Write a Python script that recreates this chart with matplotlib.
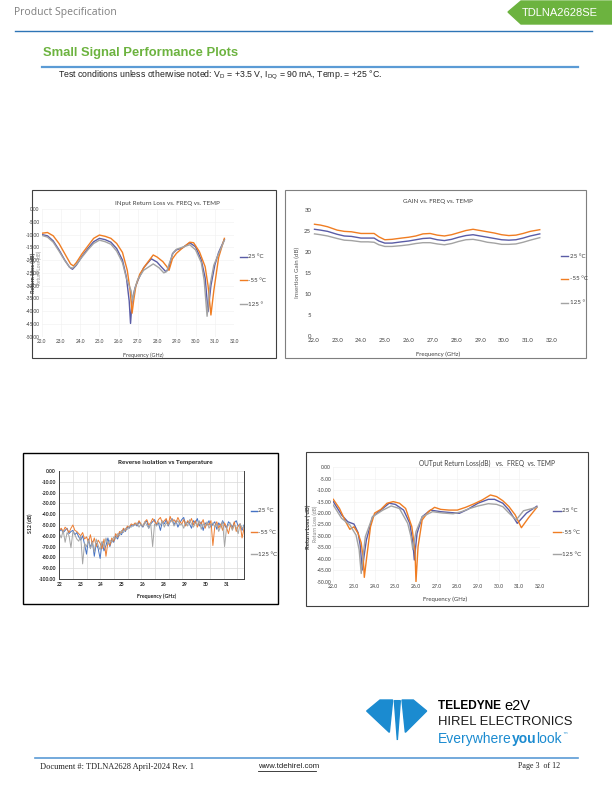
import numpy as np
import matplotlib
matplotlib.use("Agg")
import matplotlib.pyplot as plt
from matplotlib.patches import Polygon, Rectangle
from matplotlib.lines import Line2D
from matplotlib.ticker import FormatStrFormatter

# ---------------- data ----------------
temps = ["25 °C", "-55 °C", "125 °"]
temps_full = ["25 °C", "-55 °C", "125 °C"]

# Input return loss (dB)
irl_f_25 = [22.0, 22.3, 22.6, 22.9, 23.2, 23.45, 23.6, 23.8, 24.1, 24.4, 24.7, 25.0, 25.3, 25.6, 25.9,
            26.2, 26.4, 26.55, 26.62, 26.7, 26.85, 27.0, 27.3, 27.7, 28.0, 28.2, 28.45, 28.6, 28.8, 29.0,
            29.3, 29.7, 30.0, 30.3, 30.5, 30.65, 30.8, 31.0, 31.2, 31.5]
irl_25 = [-10.0, -10.5, -12.5, -16.0, -20.0, -22.8, -23.6, -22.0, -18.5, -15.5, -12.8, -11.5, -12.0, -13.0, -15.5,
          -20.0, -26.5, -36.0, -44.8, -36.0, -31.0, -28.0, -23.0, -19.5, -20.8, -22.5, -24.5, -23.5, -17.5, -16.0,
          -15.3, -13.2, -14.8, -20.0, -27.0, -40.2, -30.0, -22.0, -17.0, -12.0]
irl_f_m55 = [22.0, 22.3, 22.6, 22.9, 23.2, 23.5, 23.65, 23.8, 24.1, 24.4, 24.7, 25.0, 25.3, 25.6, 25.9,
             26.2, 26.45, 26.6, 26.7, 26.78, 26.9, 27.1, 27.4, 27.8, 28.0, 28.3, 28.5, 28.62, 28.8, 29.0,
             29.3, 29.7, 29.9, 30.2, 30.5, 30.65, 30.8, 30.95, 31.2, 31.5]
irl_m55 = [-9.5, -9.2, -10.5, -13.5, -17.5, -21.5, -22.3, -21.0, -17.5, -14.5, -11.5, -10.2, -10.7, -11.5, -13.5,
           -17.0, -24.0, -32.0, -40.8, -36.0, -30.0, -25.5, -22.0, -18.0, -18.8, -20.6, -22.5, -24.0, -19.5, -17.4,
           -15.4, -13.0, -13.2, -16.7, -22.6, -30.0, -41.5, -32.0, -19.0, -11.5]
irl_f_125 = [22.0, 22.3, 22.6, 22.9, 23.2, 23.45, 23.6, 23.8, 24.1, 24.4, 24.7, 25.0, 25.3, 25.6, 25.9,
             26.2, 26.4, 26.55, 26.65, 26.72, 26.85, 27.0, 27.3, 27.8, 28.1, 28.35, 28.5, 28.65, 28.85, 29.0,
             29.3, 29.7, 30.0, 30.3, 30.45, 30.6, 30.75, 30.95, 31.2, 31.5]
irl_125 = [-10.3, -11.0, -13.0, -16.5, -20.2, -22.8, -23.2, -21.8, -18.8, -16.0, -13.5, -12.2, -12.8, -13.8, -16.5,
           -21.0, -27.0, -30.0, -32.0, -36.0, -31.0, -27.5, -24.0, -21.5, -23.0, -25.0, -24.5, -21.0, -17.0, -15.8,
           -15.0, -14.0, -16.0, -21.0, -28.0, -42.0, -30.0, -22.0, -17.5, -12.2]

# Gain (dB)
gain_f = [22.05, 22.3, 22.6, 23.0, 23.3, 23.6, 24.0, 24.3, 24.55, 24.75, 25.0, 25.3, 25.7, 26.0, 26.3, 26.6,
          26.9, 27.2, 27.5, 27.8, 28.1, 28.4, 28.7, 29.0, 29.3, 29.6, 29.9, 30.2, 30.5, 30.8, 31.1, 31.5]
gain_m55 = [26.6, 26.4, 26.0, 25.2, 24.9, 24.8, 24.4, 24.4, 24.4, 23.6, 22.9, 23.0, 23.3, 23.5, 23.8, 24.3,
            24.4, 24.0, 23.8, 24.1, 24.6, 25.1, 25.4, 25.1, 24.8, 24.5, 24.1, 23.9, 24.0, 24.4, 24.9, 25.3]
gain_25 = [25.4, 25.2, 24.9, 24.2, 23.8, 23.7, 23.3, 23.3, 23.3, 22.6, 22.1, 22.1, 22.4, 22.6, 22.9, 23.2,
           23.3, 22.9, 22.7, 23.0, 23.5, 23.9, 24.1, 23.8, 23.5, 23.2, 22.9, 22.8, 22.9, 23.3, 23.8, 24.3]
gain_125 = [24.3, 24.1, 23.8, 23.2, 22.8, 22.7, 22.4, 22.4, 22.3, 21.7, 21.3, 21.3, 21.5, 21.7, 22.0, 22.2,
            22.2, 21.9, 21.7, 22.0, 22.5, 22.9, 23.0, 22.7, 22.3, 22.1, 21.8, 21.8, 21.9, 22.3, 22.8, 23.4]

# Reverse isolation S12 (dB), plotted on the chart's category positions
s12_ticks = ["22", "23", "24", "25", "26", "28", "29", "30", "31"]
s12_25 = [-56, -54, -57, -55, -53, -58, -56, -55, -59, -57,
          -61, -64, -60, -68, -77, -63, -71, -65, -79, -67, -72, -81, -66, -74, -69, -62, -70,
          -64, -66, -60, -63, -57, -59, -54, -56, -52, -53, -50, -51,
          -49, -51, -47, -50, -52, -48, -46, -53, -49, -47, -45, -50, -48, -55, -47, -49, -45, -51, -47, -44,
          -50, -46, -52, -48, -45, -43, -50, -47, -49, -53, -46, -48, -44, -51, -47, -55, -48, -50, -46, -52,
          -49, -47, -54, -48, -51, -46, -50, -53, -47, -49, -52, -48, -46, -51, -49, -55, -50]
s12_m55 = [-55, -53, -56, -52, -54, -57, -53, -50, -55, -56,
           -58, -60, -57, -63, -61, -66, -59, -68, -62, -70, -64, -67, -72, -63, -79, -66, -69,
           -62, -65, -58, -61, -56, -57, -53, -55, -51, -52, -49, -50,
           -48, -50, -46, -49, -51, -47, -45, -50, -48, -44, -47, -49, -45, -43, -48, -46, -44, -50, -42, -47,
           -45, -48, -43, -47, -49, -45, -51, -46, -48, -44, -50, -46, -52, -47, -49, -45, -53, -48, -50, -46,
           -69, -51, -47, -53, -49, -55, -48, -52, -58, -50, -54, -47, -56, -51, -49, -62, -53]
s12_125 = [-58, -62, -55, -66, -57, -60, -71, -56, -59, -63,
           -65, -60, -86, -67, -70, -64, -72, -66, -75, -63, -69, -73, -65, -70, -62, -68, -64,
           -66, -61, -63, -58, -60, -55, -57, -53, -54, -51, -52, -50,
           -50, -48, -52, -49, -51, -47, -50, -53, -48, -70, -49, -51, -47, -50, -46, -52, -48, -50, -47, -45,
           -51, -48, -46, -50, -49, -53, -47, -51, -45, -49, -52, -48, -50, -46, -54, -49, -51, -47, -53, -50,
           -48, -52, -49, -56, -51, -47, -70, -53, -50, -48, -55, -50, -52, -58, -49, -53, -51]
s12_pos = np.linspace(0, 8.84, len(s12_25))

# Output return loss (dB)
orl_f_25 = [22.0, 22.4, 22.7, 23.0, 23.2, 23.3, 23.4, 23.5, 23.6, 23.9, 24.3, 24.7, 25.0, 25.4, 25.7, 25.85,
            25.92, 26.05, 26.3, 26.7, 27.2, 27.7, 28.1, 28.5, 29.0, 29.5, 29.8, 30.2, 30.5, 30.9, 31.35, 31.85]
orl_25 = [-15.0, -20.8, -23.8, -24.8, -28.6, -34.0, -44.9, -38.0, -31.8, -21.6, -18.7, -15.7, -16.2, -18.7, -24.5, -33.0,
          -40.5, -28.9, -21.6, -18.7, -19.4, -19.8, -20.1, -18.4, -15.7, -14.0, -14.0, -15.7, -18.7, -24.5, -20.0, -17.0]
orl_f_m55 = [22.0, 22.3, 22.6, 22.8, 23.0, 23.2, 23.35, 23.45, 23.5, 23.6, 23.8, 24.0, 24.3, 24.6, 24.9, 25.2,
             25.5, 25.8, 25.95, 26.0, 26.1, 26.3, 26.6, 26.9, 27.2, 27.6, 28.0, 28.4, 28.8, 29.2, 29.6, 29.9,
             30.2, 30.5, 30.8, 31.1, 31.45, 31.85]
orl_m55 = [-14.0, -18.0, -23.8, -27.1, -26.0, -28.9, -33.0, -40.0, -48.1, -40.5, -26.0, -20.0, -18.4, -15.7, -15.0, -15.7,
           -18.0, -26.0, -36.0, -50.0, -34.7, -23.0, -19.4, -17.5, -18.4, -18.7, -18.7, -17.5, -16.0, -14.3, -12.1, -12.8,
           -14.6, -17.2, -20.8, -26.4, -22.0, -17.5]
orl_f_125 = [22.0, 22.4, 22.8, 23.1, 23.25, 23.35, 23.45, 23.55, 23.9, 24.4, 24.8, 25.2, 25.6, 25.75, 25.85,
             26.0, 26.3, 26.8, 27.3, 27.8, 28.2, 28.6, 29.0, 29.5, 29.9, 30.2, 30.5, 30.85, 31.2, 31.85]
orl_125 = [-16.5, -22.3, -25.2, -29.6, -36.0, -46.4, -38.0, -30.3, -21.6, -18.7, -16.9, -18.0, -24.5, -30.0, -36.0,
           -28.1, -21.6, -19.4, -20.0, -20.3, -19.4, -18.0, -16.9, -15.9, -16.2, -17.2, -20.0, -23.0, -19.0, -17.5]

# ---------------- styling ----------------
BLUE, ORANGE, GRAY = "#5a5ca6", "#f07d22", "#a3a3a3"
XBLUE, XORANGE, XGRAY = "#4472c4", "#ed7d31", "#a5a5a5"
CH = "Lato"

W, H = 612, 792
fig = plt.figure(figsize=(6.12, 7.92), dpi=100)
renderer = fig.canvas.get_renderer()


def fx(x):
    return x / W


def fy(y):
    return 1 - y / H


def axes_px(x0, y0, x1, y1):
    return fig.add_axes([fx(x0), fy(y1), (x1 - x0) / W, (y1 - y0) / H])


def hline(x0, x1, y, color, lw):
    fig.add_artist(Line2D([fx(x0), fx(x1)], [fy(y), fy(y)], color=color, lw=lw,
                          transform=fig.transFigure))


def txt(x, y, s, **kw):
    kw.setdefault("va", "center")
    return fig.text(fx(x), fy(y), s, **kw)


def legend_px(x, ys, colors, labels, length=7, size=4.5, lw=1.0):
    for y, c, lab in zip(ys, colors, labels):
        hline(x, x + length, y, c, lw)
        txt(x + length + 1.5, y, lab, fontsize=size, family=CH, color="#404040")


def frame(x0, y0, x1, y1, color="#404040", lw=0.8):
    fig.add_artist(Rectangle((fx(x0), fy(y1)), (x1 - x0) / W, (y1 - y0) / H, fill=False,
                             edgecolor=color, lw=lw, transform=fig.transFigure))


def plain_axes(ax, size):
    for s in ax.spines.values():
        s.set_visible(False)
    ax.tick_params(length=0, labelsize=size, pad=1.5, colors="#404040")
    for lab in ax.get_xticklabels() + ax.get_yticklabels():
        lab.set_family(CH)
    ax.grid(color="#f0f0f0", lw=0.4)
    ax.set_axisbelow(True)


# ---------------- page header ----------------
txt(14, 13, "Product Specification", fontsize=7.5, color="#7f7f7f", family="Open Sans")
fig.add_artist(Polygon([(fx(508), fy(12)), (fx(521), fy(1)), (fx(612), fy(1)), (fx(612), fy(24)),
                        (fx(521), fy(24))], closed=True, color="#6cb33f", transform=fig.transFigure))
txt(560, 13, "TDLNA2628SE", fontsize=8, color="white", ha="center", family="Liberation Sans")
hline(15, 592, 31, "#2e75b6", 1.0)
txt(43, 53, "Small Signal Performance Plots", fontsize=9.4, color="#6cb33f", fontweight="bold",
    family="Liberation Sans")
hline(42, 578, 67, "#5b9bd5", 1.6)
plt.rcParams["mathtext.fontset"] = "custom"
plt.rcParams["mathtext.rm"] = "Liberation Sans"
txt(58, 75, r"Test conditions unless otherwise noted: V$_\mathregular{D}$ = +3.5 V, "
            r"I$_\mathregular{DQ}$ = 90 mA, Temp. = +25 °C.", fontsize=6.3, color="#202020",
    family="Liberation Sans")

# ---------------- chart 1: input return loss ----------------
frame(32, 190, 276, 358)
ax1 = axes_px(41.7, 209, 234, 336.7)
ax1.plot(irl_f_25, irl_25, color=BLUE, lw=1.0)
ax1.plot(irl_f_m55, irl_m55, color=ORANGE, lw=1.0)
ax1.plot(irl_f_125, irl_125, color=GRAY, lw=1.0)
ax1.set_xlim(22, 32)
ax1.set_ylim(-50, 0)
ax1.set_xticks(np.arange(22, 32.1, 1.0))
ax1.set_yticks(np.arange(-50, 0.1, 5))
ax1.xaxis.set_major_formatter(FormatStrFormatter("%.1f"))
ax1.yaxis.set_major_formatter(FormatStrFormatter("%.2f"))
plain_axes(ax1, 3.4)
txt(167, 203, "INput Return Loss vs. FREQ vs. TEMP", fontsize=4.5, family=CH, color="#404040", ha="center")
txt(143, 355, "Frequency (GHz)", fontsize=4, family=CH, color="#404040", ha="center")
txt(33.5, 273, "Return Loss (dB)", fontsize=4.0, family=CH, fontweight="bold", rotation=90,
    ha="center", color="#404040")
txt(39.5, 268, "Return Loss (dB)", fontsize=3.4, family=CH, rotation=90, ha="center", color="#909090")
legend_px(240, [257, 280, 304], [BLUE, ORANGE, GRAY], temps)

# ---------------- chart 2: gain ----------------
frame(285, 190, 586, 358, color="#7f7f7f")
ax2 = axes_px(313.3, 210, 551.7, 335.7)
ax2.plot(gain_f, gain_25, color=BLUE, lw=1.0)
ax2.plot(gain_f, gain_m55, color=ORANGE, lw=1.0)
ax2.plot(gain_f, gain_125, color=GRAY, lw=1.0)
ax2.set_xlim(22, 32)
ax2.set_ylim(0, 30)
ax2.set_xticks(np.arange(22, 32.1, 1.0))
ax2.set_yticks(np.arange(0, 30.1, 5))
ax2.xaxis.set_major_formatter(FormatStrFormatter("%.1f"))
plain_axes(ax2, 4.3)
ax2.grid(False)
txt(438, 201, "GAIN vs. FREQ vs. TEMP", fontsize=4.5, family=CH, color="#404040", ha="center")
txt(438, 354, "Frequency (GHz)", fontsize=4.3, family=CH, color="#404040", ha="center")
txt(297.5, 272, "Insertion Gain (dB)", fontsize=4.5, family=CH, rotation=90, ha="center", color="#595959")
legend_px(561, [256, 279, 303], [BLUE, ORANGE, GRAY], temps)

# ---------------- chart 3: reverse isolation ----------------
frame(23, 453, 278, 604, color="black", lw=1.0)
ax3 = axes_px(59.3, 471, 244, 579)
ax3.plot(s12_pos, s12_25, color=XBLUE, lw=0.7)
ax3.plot(s12_pos, s12_m55, color=XORANGE, lw=0.7)
ax3.plot(s12_pos, s12_125, color=XGRAY, lw=0.7)
ax3.set_xlim(0, 8.84)
ax3.set_ylim(-100, 0)
ax3.set_xticks(range(len(s12_ticks)))
ax3.set_xticklabels(s12_ticks)
ax3.set_xticks(np.arange(0, 8.84, 0.655), minor=True)
ax3.set_yticks(np.arange(-100, 0.1, 10))
ax3.yaxis.set_major_formatter(FormatStrFormatter("%.2f"))
ax3.spines["top"].set_visible(False)
for side in ["left", "bottom", "right"]:
    ax3.spines[side].set_color("#404040")
    ax3.spines[side].set_linewidth(0.7)
ax3.tick_params(which="both", length=0, labelsize=3.5, pad=2.5, colors="#202020")
for lab in ax3.get_xticklabels() + ax3.get_yticklabels():
    lab.set_family(CH)
    lab.set_fontweight("bold")
ax3.grid(which="minor", axis="x", color="#d9d9d9", lw=0.5)
ax3.grid(which="major", axis="y", color="#d9d9d9", lw=0.5)
ax3.set_axisbelow(True)
txt(165, 463, "Reverse Isolation vs Temperature", fontsize=4.6, family=CH, fontweight="bold",
    ha="center", color="#202020")
txt(157, 596, "Frequency (GHz)", fontsize=3.8, family=CH, fontweight="bold", ha="center", color="#202020")
txt(30, 523, "S12 (dB)", fontsize=3.8, family=CH, fontweight="bold", rotation=90, ha="center", color="#202020")
legend_px(251, [511, 532, 554], [XBLUE, XORANGE, XGRAY], temps_full, length=6)

# ---------------- chart 4: output return loss ----------------
frame(306, 452, 588, 606)
ax4 = axes_px(333.3, 467.3, 540, 581.7)
ax4.plot(orl_f_25, orl_25, color=BLUE, lw=1.0)
ax4.plot(orl_f_m55, orl_m55, color=ORANGE, lw=1.0)
ax4.plot(orl_f_125, orl_125, color=GRAY, lw=1.0)
ax4.set_xlim(22, 32)
ax4.set_ylim(-50, 0)
ax4.set_xticks(np.arange(22, 32.1, 1.0))
ax4.set_yticks(np.arange(-50, 0.1, 5))
ax4.xaxis.set_major_formatter(FormatStrFormatter("%.1f"))
ax4.yaxis.set_major_formatter(FormatStrFormatter("%.2f"))
plain_axes(ax4, 3.7)
txt(487, 463, "OUTput Return Loss(dB)   vs.  FREQ  vs. TEMP", fontsize=4.8, family=CH,
    color="#404040", ha="center")
txt(445, 599, "Frequency (GHz)", fontsize=4.3, family=CH, color="#404040", ha="center")
txt(308.5, 527, "Return Loss ( dB)", fontsize=4.2, family=CH, fontweight="bold", rotation=90,
    ha="center", color="#404040")
txt(315, 524, "Return Loss (dB)", fontsize=3.6, family=CH, rotation=90, ha="center", color="#808080")
legend_px(553, [511, 532, 554], [BLUE, ORANGE, GRAY], temps_full, length=8)

# ---------------- logo ----------------
LOGO = "#1b8bd0"


def lp(pts):
    return [(fx(360 + zx / 3), fy(695 + zy / 3)) for zx, zy in pts]


for blade in ([(20, 48), (60, 15), (98, 15), (88, 112)],
              [(103, 17), (121, 17), (112, 135)],
              [(200, 48), (160, 15), (126, 15), (136, 112)]):
    fig.add_artist(Polygon(lp(blade), closed=True, color=LOGO, transform=fig.transFigure))


def run_text(x, y, pieces, **kw):
    # place text pieces one after another on a line
    for piece, extra in pieces:
        t = txt(x, y, piece, **kw, **extra)
        x += t.get_window_extent(renderer).width
    return x


run_text(438, 706, [("TELEDYNE ", {"fontweight": "bold", "fontsize": 8.6}),
                    ("e2V", {"fontsize": 10.5})], family="Liberation Sans", color="black")
txt(438, 722, "HIREL ELECTRONICS", fontsize=9.4, family="Liberation Sans", color="#1a1a1a")
xe = run_text(438, 739, [("Everywhere", {}), ("you", {"fontweight": "bold"}), ("look", {})],
              fontsize=10, family="Liberation Sans", color=LOGO)
txt(xe + 0.5, 735, "™", fontsize=4, family="DejaVu Sans", color=LOGO)

# ---------------- footer ----------------
hline(35, 578, 758, "#5b9bd5", 1.2)
txt(40, 767, "Document #: TDLNA2628 April-2024 Rev. 1", fontsize=6, family="Liberation Serif", color="#202020")
txt(258, 766, "www.tdehirel.com", fontsize=5.6, family="Liberation Sans", color="#202020")
hline(258, 316, 770.5, "#202020", 0.6)
txt(518, 766, "Page 3  of 12", fontsize=5.8, family="Liberation Serif", color="#202020")

fig.savefig("out.png", dpi=100)
